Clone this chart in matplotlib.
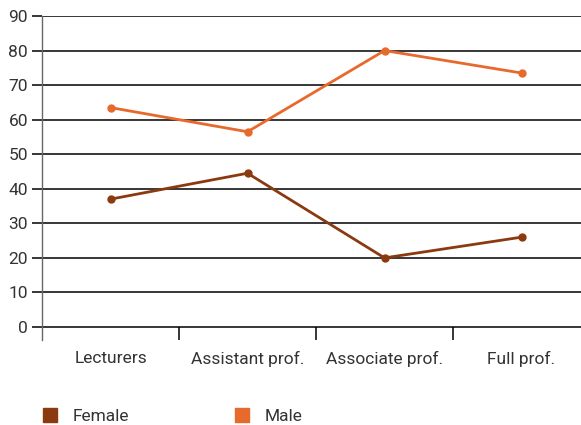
import matplotlib.pyplot as plt
from matplotlib.lines import Line2D

plt.rcParams["font.family"] = ["Roboto", "DejaVu Sans"]

categories = ["Lecturers", "Assistant prof.", "Associate prof.", "Full prof."]
female = [37, 44.5, 20, 26]
male = [63.5, 56.5, 80, 73.5]

FEMALE_COL = "#8B3A0F"
MALE_COL = "#E8692C"
TEXT_COL = "#333333"

fig = plt.figure(figsize=(5.81, 4.25), dpi=100)
ax = fig.add_axes([42 / 581, 1 - 340 / 425, 1 - 42 / 581, (340 - 16) / 425])

x = range(len(categories))
ax.plot(x, female, color=FEMALE_COL, lw=2, marker="o", ms=5)
ax.plot(x, male, color=MALE_COL, lw=2, marker="o", ms=5)

ax.set_ylim(-3.76, 90)
ax.set_xlim(-0.5, 3.434)
ax.set_yticks(range(0, 91, 10))
ax.grid(axis="y", color="black", lw=1.1)
ax.set_axisbelow(True)

# short separators between categories below the zero line
ax.vlines([0.5, 1.5, 2.5], -3.76, 0, color="black", lw=1.1)

ax.set_xticks(list(x))
ax.set_xticklabels(categories)
ax.tick_params(axis="x", length=0, pad=8, labelsize=12.5, labelcolor=TEXT_COL)
ax.tick_params(axis="y", length=7, width=1.1, color="black", pad=3,
               labelsize=12.5, labelcolor=TEXT_COL)

for side in ["top", "right", "bottom"]:
    ax.spines[side].set_visible(False)
ax.spines["left"].set_color("#666666")
ax.spines["left"].set_linewidth(1)

handles = [
    Line2D([], [], marker="s", ls="", color=FEMALE_COL, ms=10),
    Line2D([], [], marker="s", ls="", color=MALE_COL, ms=10),
]
leg = fig.legend(handles, ["Female", "Male"], loc="center left",
                 bbox_to_anchor=(29 / 581, 1 - 416 / 425), ncol=2,
                 frameon=False, fontsize=12.5, handletextpad=0.3,
                 columnspacing=5.5, labelcolor=TEXT_COL,
                 borderaxespad=0, borderpad=0.2)

fig.savefig("out.png", dpi=100)
